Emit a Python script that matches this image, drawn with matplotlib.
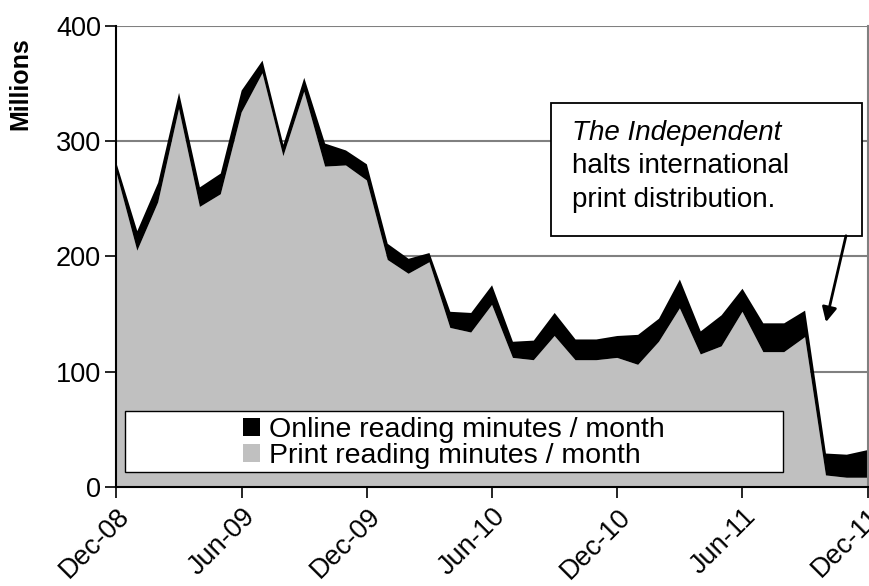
import matplotlib
matplotlib.use("Agg")
import matplotlib.pyplot as plt
from matplotlib.patches import Rectangle
from matplotlib.patches import Patch

plt.rcParams['font.family'] = ['Liberation Sans', 'DejaVu Sans']

months = ['Dec-08', 'Jan-09', 'Feb-09', 'Mar-09', 'Apr-09', 'May-09', 'Jun-09',
          'Jul-09', 'Aug-09', 'Sep-09', 'Oct-09', 'Nov-09', 'Dec-09',
          'Jan-10', 'Feb-10', 'Mar-10', 'Apr-10', 'May-10', 'Jun-10',
          'Jul-10', 'Aug-10', 'Sep-10', 'Oct-10', 'Nov-10', 'Dec-10',
          'Jan-11', 'Feb-11', 'Mar-11', 'Apr-11', 'May-11', 'Jun-11',
          'Jul-11', 'Aug-11', 'Sep-11', 'Oct-11', 'Nov-11', 'Dec-11']

print_minutes = [273, 205, 247, 328, 243, 254, 325, 359, 287, 343, 278, 279, 266,
                 197, 185, 195, 138, 134, 158, 112, 110, 131, 110, 110, 112,
                 106, 126, 155, 115, 122, 152, 117, 117, 130, 10, 8, 8]
online_minutes = [8, 17, 17, 14, 17, 18, 19, 11, 10, 12, 20, 13, 14,
                  14, 13, 8, 14, 17, 17, 14, 17, 20, 18, 18, 19,
                  26, 20, 25, 20, 27, 20, 25, 25, 23, 19, 20, 24]

series_labels = ['Print reading minutes / month', 'Online reading minutes / month']
y_ticks = [0, 100, 200, 300, 400]
annotation_lines = ['The Independent', 'halts international', 'print distribution.']

fig = plt.figure(figsize=(8.69, 5.86), dpi=100)
ax = fig.add_axes([0.134, 0.169, 0.8645, 0.7866])

x = list(range(len(months)))
ax.stackplot(x, print_minutes, online_minutes, colors=['#C0C0C0', '#000000'],
             linewidth=0, zorder=2)

ax.set_xlim(0, len(months) - 1)
ax.set_ylim(0, 400)
ax.set_yticks(y_ticks)
ax.set_yticklabels([str(v) for v in y_ticks], fontsize=19.5)
tick_pos = x[::6]
ax.set_xticks(tick_pos)
ax.set_xticklabels([months[i] for i in tick_pos], fontsize=19.5, rotation=45,
                   ha='right', rotation_mode='anchor')
ax.tick_params(axis='both', direction='out', length=8, width=1.2, color='black')
ax.tick_params(axis='y', pad=3)
ax.tick_params(axis='x', pad=4)

for v in y_ticks[1:]:
    ax.axhline(v, color='#808080', lw=1.5, zorder=1)

ax.spines['left'].set_color('black')
ax.spines['left'].set_linewidth(1.5)
ax.spines['bottom'].set_color('black')
ax.spines['bottom'].set_linewidth(1.5)
ax.spines['bottom'].set_zorder(5)
ax.spines['top'].set_visible(False)
ax.spines['right'].set_color('#808080')
ax.spines['right'].set_linewidth(1.5)

fig.text(0.023, 0.858, 'Millions', rotation=90, fontsize=18, fontweight='bold',
         ha='center', va='center')

# legend box
ax.add_patch(Rectangle((0.0114, 0.0325), 0.8756, 0.1325, transform=ax.transAxes,
                       facecolor='white', edgecolor='black', lw=1.0, zorder=4))
handles = [Patch(facecolor='#000000', edgecolor='none'),
           Patch(facecolor='#C0C0C0', edgecolor='none')]
leg = ax.legend(handles, [series_labels[1], series_labels[0]],
                loc='center', bbox_to_anchor=(0.449, 0.095), frameon=False,
                fontsize=20.5, labelspacing=0.02, handlelength=0.6, handleheight=0.6,
                handletextpad=0.3, borderpad=0)
leg.set_zorder(6)

# annotation
ax.add_patch(Rectangle((0.578, 0.544), 0.414, 0.289, transform=ax.transAxes,
                       facecolor='white', edgecolor='black', lw=1.3, zorder=6))
ax.text(0.6064, 0.7527, annotation_lines[0], transform=ax.transAxes, fontsize=20,
        style='italic', va='baseline', ha='left', zorder=7)
ax.text(0.6064, 0.6811, annotation_lines[1], transform=ax.transAxes, fontsize=20,
        va='baseline', ha='left', zorder=7)
ax.text(0.6064, 0.6074, annotation_lines[2], transform=ax.transAxes, fontsize=20,
        va='baseline', ha='left', zorder=7)
ax.annotate('', xy=(34.0, 143), xytext=(34.96, 218),
            arrowprops=dict(arrowstyle='-|>', color='black', lw=2,
                            mutation_scale=22, shrinkA=0, shrinkB=0), zorder=7)

fig.savefig('out.png', dpi=100)
